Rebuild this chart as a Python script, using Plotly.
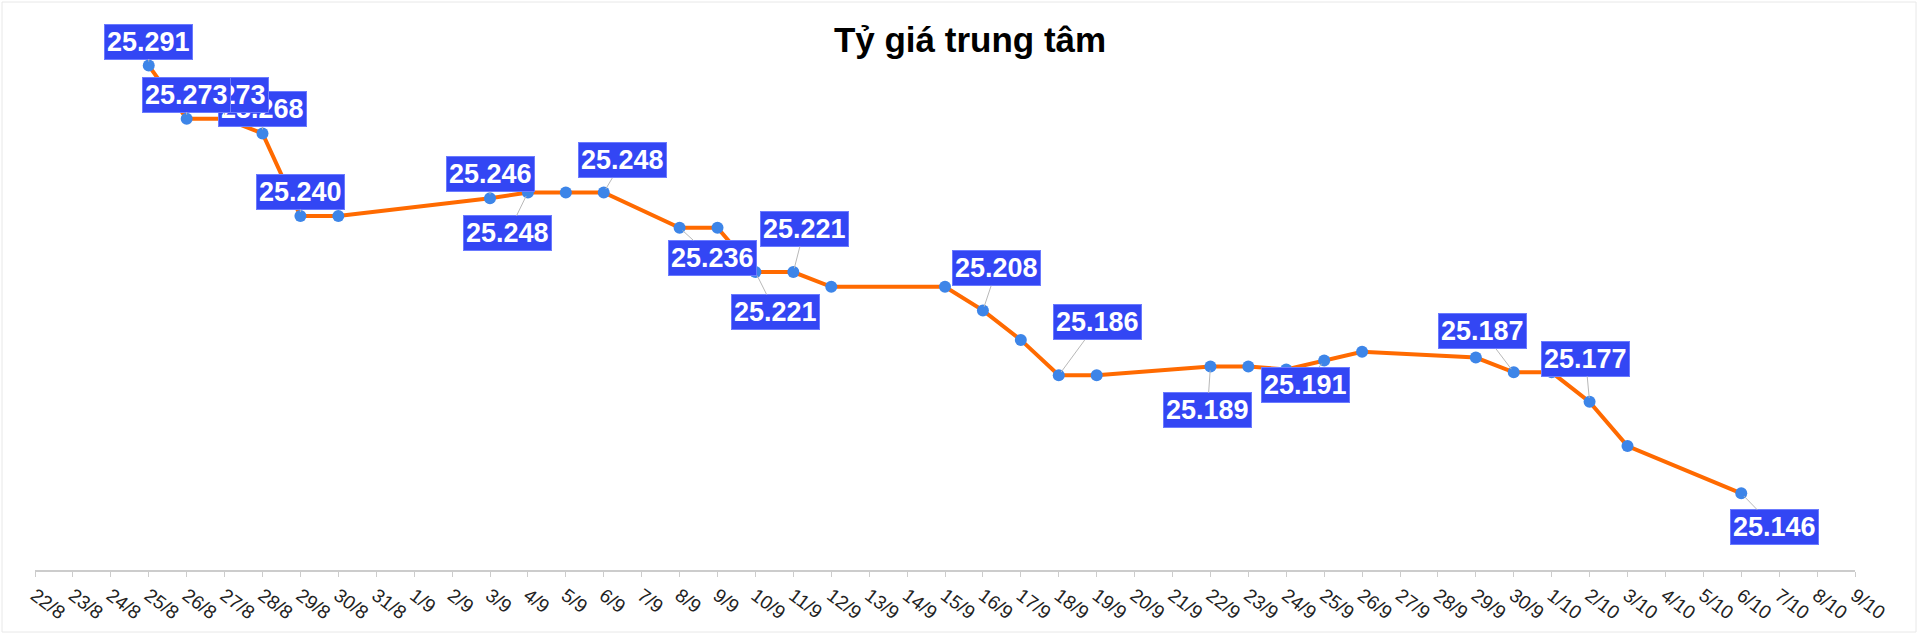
import plotly.graph_objects as go

# ---- data ----
all_dates = ["22/8", "23/8", "24/8", "25/8", "26/8", "27/8", "28/8", "29/8", "30/8", "31/8",
             "1/9", "2/9", "3/9", "4/9", "5/9", "6/9", "7/9", "8/9", "9/9", "10/9",
             "11/9", "12/9", "13/9", "14/9", "15/9", "16/9", "17/9", "18/9", "19/9", "20/9",
             "21/9", "22/9", "23/9", "24/9", "25/9", "26/9", "27/9", "28/9", "29/9", "30/9",
             "1/10", "2/10", "3/10", "4/10", "5/10", "6/10", "7/10", "8/10", "9/10"]

dates = ["25/8", "26/8", "27/8", "28/8", "29/8", "30/8", "3/9", "4/9", "5/9", "6/9",
         "8/9", "9/9", "10/9", "11/9", "12/9", "15/9", "16/9", "17/9", "18/9", "19/9",
         "22/9", "23/9", "24/9", "25/9", "26/9", "29/9", "30/9", "1/10", "2/10", "3/10", "6/10"]
rates = [25291, 25273, 25273, 25268, 25240, 25240, 25246, 25248, 25248, 25248,
         25236, 25236, 25221, 25221, 25216, 25216, 25208, 25198, 25186, 25186,
         25189, 25189, 25188, 25191, 25194, 25192, 25187, 25187, 25177, 25162, 25146]

title_text = "Tỷ giá trung tâm"

# labelled points and the pixel offset of each label box (layout only)
label_offsets = [
    ("28/8", 0, -24), ("27/8", 0, -24), ("26/8", 0, -24), ("25/8", 0, -24),
    ("29/8", 0, -24), ("3/9", 0, -24), ("4/9", -20, 41), ("6/9", 19, -32),
    ("8/9", 33, 30), ("10/9", 20, 40), ("11/9", 11, -43), ("16/9", 14, -42),
    ("18/9", 39, -53), ("22/9", -3, 44), ("25/9", -19, 24), ("30/9", -31, -41),
    ("2/10", -4, -43), ("6/10", 33, 34),
]

def fmt(v):
    return f"{v:,}".replace(",", ".")

FONT = "Liberation Sans, Arial, sans-serif"
W, H = 1920, 635
ML, MR, MT, MB = 35, 65, 39, 65

fig = go.Figure()
fig.add_trace(go.Scatter(
    x=dates, y=rates, mode="lines+markers",
    line=dict(color="#ff6a00", width=4),
    marker=dict(color="#3d85e8", size=12),
    hoverinfo="x+y", showlegend=False,
))

value_of = dict(zip(dates, rates))
annotations = []
for d, ax, ay in label_offsets:
    v = value_of[d]
    annotations.append(dict(
        x=d, y=v, xref="x", yref="y", text=fmt(v),
        showarrow=True, arrowhead=0, arrowwidth=1, arrowcolor="#b8b8b8",
        ax=ax, ay=ay, standoff=4,
        bgcolor="#3346f4", bordercolor="#6b7bff", borderwidth=1, borderpad=2,
        font=dict(family=FONT, size=27, color="white", weight="bold"),
    ))

pw = W - ML - MR
ph = H - MT - MB

fig.update_layout(
    width=W, height=H,
    margin=dict(l=ML, r=MR, t=MT, b=MB),
    paper_bgcolor="white", plot_bgcolor="white",
    title=dict(text=title_text, x=970 / W, xref="container", xanchor="center",
               y=1 - 40 / H, yref="container", yanchor="middle",
               font=dict(family=FONT, size=35, color="black", weight="bold")),
    xaxis=dict(type="category", categoryorder="array", categoryarray=all_dates,
               tickmode="array", tickvals=all_dates, ticktext=all_dates,
               range=[0, len(all_dates) - 1], showgrid=False, zeroline=False,
               showline=True, linecolor="#cccccc", linewidth=2,
               ticks="outside", ticklen=5, tickcolor="#cccccc", tickwidth=1,
               tickangle=37, tickfont=dict(family=FONT, size=19, color="#222222"),
               fixedrange=True),
    yaxis=dict(range=[25120, 25300], visible=False, fixedrange=True),
    annotations=annotations,
    shapes=[dict(type="rect", xref="paper", yref="paper",
                 x0=(2 - ML) / pw, x1=(1916 - ML) / pw,
                 y0=(H - MB - 632) / ph, y1=(H - MB - 2) / ph,
                 line=dict(color="#e8e8e8", width=1), fillcolor="rgba(0,0,0,0)",
                 layer="below")],
)

fig.write_html("out.html", include_plotlyjs=True, full_html=True,
               config={"displayModeBar": False},
               post_script="document.body.style.margin='0';document.body.style.overflow='hidden';")
